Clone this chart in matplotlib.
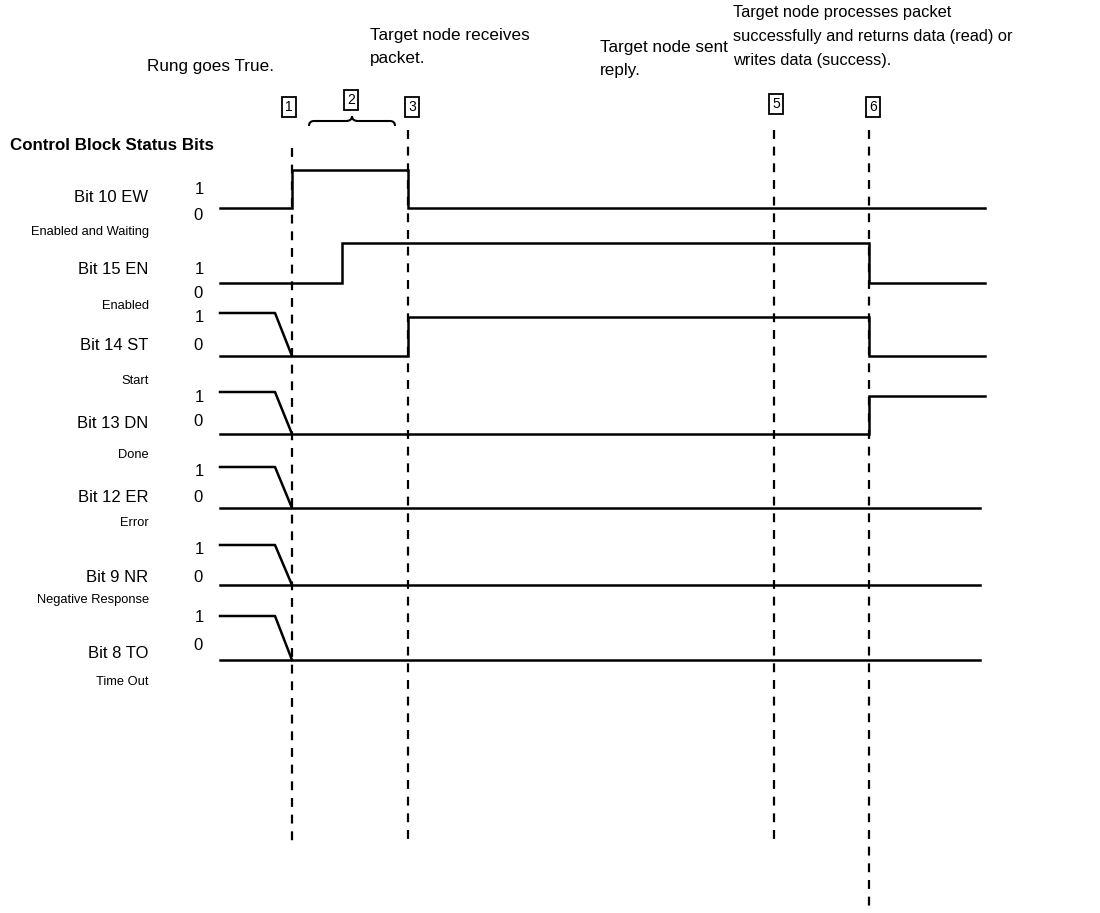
import matplotlib.pyplot as plt
from matplotlib.path import Path
from matplotlib.patches import PathPatch

plt.rcParams['font.family'] = ['Liberation Sans', 'DejaVu Sans']

# event markers (time position, label)
marker_x = [292, 408, 774, 869]
marker_id = ["1", "3", "5", "6"]
marker_bottom = [845, 840, 840, 912]

# signal names, descriptions and waveforms (time, level)
bit_names = ["Bit 10 EW", "Bit 15 EN", "Bit 14 ST", "Bit 13 DN", "Bit 12 ER", "Bit 9 NR", "Bit 8 TO"]
bit_desc = ["Enabled and Waiting", "Enabled", "Start", "Done", "Error", "Negative Response", "Time Out"]
waves = [
    [(220, 0), (292, 0), (292, 1), (408, 1), (408, 0), (985, 0)],
    [(220, 0), (342, 0), (342, 1), (869, 1), (869, 0), (985, 0)],
    [(220, 0), (408, 0), (408, 0.9), (869, 0.9), (869, 0), (985, 0)],
    [(220, 0), (865, 0), (869, 0), (869, 0.9), (985, 0.9)],
    [(220, 0), (980, 0)],
    [(220, 0), (980, 0)],
    [(220, 0), (980, 0)],
]
# bits whose prior state was 1 before the rung went true
fall_from_one = [False, False, True, True, True, True, True]

# layout of each row: y of 0 level, y of 1 level
low_y = [208, 283, 356, 434, 508, 585, 660]
high_y = [170, 243, 313, 392, 467, 545, 616]
name_y = [197, 270, 346, 424, 497, 578, 653]
desc_y = [232, 306, 381, 455, 523, 600, 682]
one_y = [190, 270, 318, 397, 472, 550, 617]
zero_y = [215, 294, 345, 422, 497, 577, 645]

fig = plt.figure(figsize=(11, 9.13), dpi=100)
ax = fig.add_axes([0, 0, 1, 1])
ax.set_xlim(0, 1100)
ax.set_ylim(913, 0)
ax.axis("off")

box = dict(boxstyle="square,pad=0.22", fc="white", ec="black", lw=1.3)
for x, lab, yb in zip(marker_x, marker_id, marker_bottom):
    ax.plot([x, x], [148 if lab == "1" else 130, yb], color="black", lw=1.6,
            linestyle=(0, (4, 3.5)))
    bx = x - 3 if lab == "1" else (x + 2 if lab == "5" else x + 4)
    ax.text(bx, 107 if lab != "5" else 104, lab, ha="center", va="center",
            fontsize=10, bbox=box)
ax.text(351, 100, "2", ha="center", va="center", fontsize=10, bbox=box)

# brace over interval 2
verts = [(309, 126), (309, 121), (314, 121), (314, 121),
         (346, 121), (346, 121), (352, 121), (352, 116),
         (352, 121), (358, 121), (358, 121),
         (390, 121), (390, 121), (395, 121), (395, 126)]
codes = [Path.MOVETO, Path.CURVE3, Path.CURVE3, Path.LINETO,
         Path.LINETO, Path.LINETO, Path.CURVE3, Path.CURVE3,
         Path.CURVE3, Path.CURVE3, Path.LINETO,
         Path.LINETO, Path.LINETO, Path.CURVE3, Path.CURVE3]
ax.add_patch(PathPatch(Path(verts, codes), fc="none", ec="black", lw=1.5))

for i in range(len(bit_names)):
    lo, hi = low_y[i], high_y[i]
    xs = [p[0] for p in waves[i]]
    ys = [lo + (hi - lo) * p[1] for p in waves[i]]
    ax.plot(xs, ys, color="black", lw=1.8, solid_joinstyle="miter")
    if fall_from_one[i]:
        ax.plot([220, 275, 292], [hi, hi, lo], color="black", lw=1.8)
    ax.text(148, name_y[i], bit_names[i], ha="right", va="center", fontsize=12)
    ax.text(149, desc_y[i], bit_desc[i], ha="right", va="center", fontsize=9.3)
    ax.text(199, one_y[i], "1", ha="center", va="center", fontsize=12)
    ax.text(198, zero_y[i], "0", ha="center", va="center", fontsize=12)

ax.text(10, 145, "Control Block Status Bits", ha="left", va="center",
        fontsize=12.2, fontweight="bold")

ax.text(147, 67, "Rung goes True.", ha="left", va="center", fontsize=12.3)
ax.text(370, 47, "Target node receives\npacket.", ha="left", va="center",
        fontsize=12.3, linespacing=1.7)
ax.text(600, 59, "Target node sent\nreply.", ha="left", va="center",
        fontsize=12.3, linespacing=1.7)
ax.text(733, 36, "Target node processes packet\nsuccessfully and returns data (read) or\nwrites data (success).",
        ha="left", va="center", fontsize=11.8, linespacing=1.75)

fig.savefig("out.png", dpi=100)
